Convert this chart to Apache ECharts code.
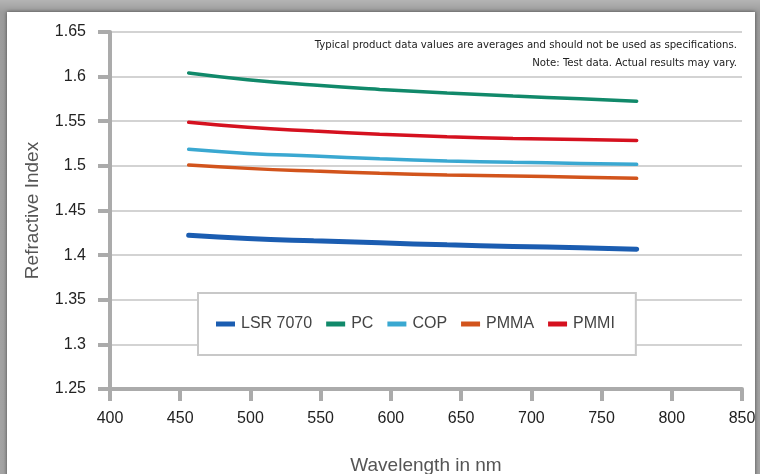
<!DOCTYPE html>
<html>
<head>
<meta charset="utf-8">
<script src="https://cdn.jsdelivr.net/npm/echarts@6/dist/echarts.min.js"></script>
<style>
  html, body { margin: 0; padding: 0; }
  #frame { position: absolute; left: 0; top: 0; width: 760px; height: 474px; overflow: hidden;
    background: linear-gradient(to bottom, #b4b4b4 0px, #9c9c9c 12px, #a4a4a4 100%); }
  #panel { position: absolute; left: 7px; top: 12px; width: 748px; height: 480px; background: #fff;
    box-shadow: 0 0 4px rgba(0,0,0,0.55); }
  #chart { position: absolute; left: 0; top: 0; width: 760px; height: 474px; }
</style>
</head>
<body>
<div id="frame"><div id="panel"></div></div>
<div id="chart"></div>
<script>
// Data
const wavelengths = [456, 498, 545, 592, 640, 687, 735, 775];
const seriesNames = ['LSR 7070', 'PC', 'COP', 'PMMA', 'PMMI'];
const lsr7070 = [1.4224, 1.4187, 1.4160, 1.4138, 1.4115, 1.4098, 1.4082, 1.4067];
const pc      = [1.6040, 1.5965, 1.5905, 1.5857, 1.5817, 1.5783, 1.5752, 1.5725];
const cop     = [1.5185, 1.5140, 1.5110, 1.5080, 1.5056, 1.5040, 1.5028, 1.5017];
const pmma    = [1.5009, 1.4972, 1.4942, 1.4918, 1.4899, 1.4886, 1.4873, 1.4860];
const pmmi    = [1.5488, 1.5432, 1.5390, 1.5355, 1.5327, 1.5308, 1.5295, 1.5284];
const xTicks = [400, 450, 500, 550, 600, 650, 700, 750, 800, 850];
const yTicks = [1.25, 1.3, 1.35, 1.4, 1.45, 1.5, 1.55, 1.6, 1.65];
const noteLines = [
  'Typical product data values are averages and should not be used as specifications.',
  'Note: Test data. Actual results may vary.'
];

const colors = ['#1b5db1', '#11896a', '#3aa8d1', '#d2541c', '#d5111f'];
const widths = [5, 3.5, 3.5, 3.5, 3.5];
const values = [lsr7070, pc, cop, pmma, pmmi];

const chart = echarts.init(document.getElementById('chart'), null, { renderer: 'canvas' });
const axisGray = '#ababab';
const option = {
  animation: false,
  backgroundColor: 'transparent',
  textStyle: { fontFamily: 'Liberation Sans, Arial, sans-serif' },
  grid: { left: 110, right: 18, top: 32, bottom: 85, containLabel: false, outerBoundsMode: 'none' },
  xAxis: {
    type: 'value', min: xTicks[0], max: xTicks[xTicks.length - 1], interval: 50,
    name: 'Wavelength in nm', nameLocation: 'middle', nameGap: 67,
    nameTextStyle: { fontSize: 19, color: '#555', fontFamily: 'Liberation Sans, Arial, sans-serif' },
    axisLine: { show: true, lineStyle: { color: axisGray, width: 4 } },
    axisTick: { show: true, length: 12, lineStyle: { color: axisGray, width: 4 } },
    axisLabel: { margin: 22, fontSize: 16, color: '#222' },
    splitLine: { show: false }
  },
  yAxis: {
    type: 'value', min: yTicks[0], max: yTicks[yTicks.length - 1], interval: 0.05,
    name: 'Refractive Index', nameLocation: 'middle', nameGap: 68, nameRotate: 90,
    nameTextStyle: { fontSize: 19, color: '#555', fontFamily: 'Liberation Sans, Arial, sans-serif' },
    axisLine: { show: true, lineStyle: { color: axisGray, width: 4 } },
    axisTick: { show: true, length: 12, lineStyle: { color: axisGray, width: 4 } },
    axisLabel: { margin: 24, fontSize: 16, color: '#222', formatter: v => String(+v.toFixed(2)) },
    splitLine: { show: true, lineStyle: { color: '#c4c4c4', width: 1.5 } }
  },
  legend: {
    left: 198, top: 293,
    data: seriesNames,
    icon: 'rect', itemWidth: 19, itemHeight: 5, itemGap: 14,
    padding: [23, 21, 23, 18],
    backgroundColor: '#fff', borderColor: '#c8c8c8', borderWidth: 2,
    textStyle: { fontSize: 16, color: '#444', padding: [0, 0, 0, 1] }
  },
  graphic: noteLines.map((t, i) => ({
    type: 'text', right: 23, top: 40 + i * 18, z: 10,
    style: { text: t, fill: '#222', fontSize: 11.3, fontFamily: 'DejaVu Sans Condensed, DejaVu Sans, sans-serif', textAlign: 'right' }
  })),
  series: seriesNames.map((n, i) => ({
    name: n, type: 'line', smooth: true, showSymbol: false, symbol: 'none',
    data: wavelengths.map((w, j) => [w, values[i][j]]),
    lineStyle: { color: colors[i], width: widths[i], cap: 'round' },
    itemStyle: { color: colors[i] }
  }))
};
chart.setOption(option);
</script>
</body>
</html>
